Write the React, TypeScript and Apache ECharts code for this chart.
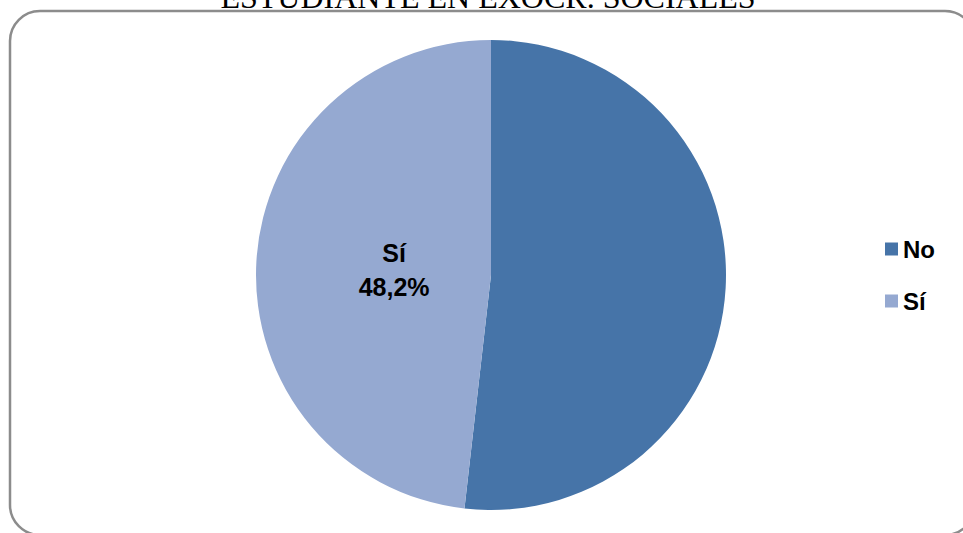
import React, { useEffect, useRef } from "react";
import * as echarts from "echarts";

const categories = ["No", "Sí"];
const values = [51.8, 48.2];
const colors = ["#4674A8", "#95A9D1"];
const titleText = "ESTUDIANTE EN EXOCR. SOCIALES";

export default function App() {
  const ref = useRef<HTMLDivElement>(null);
  useEffect(() => {
    if (!ref.current) return;
    const chart = echarts.init(ref.current, undefined, { renderer: "svg" });
    const data = categories.map((c, i) => ({ name: c, value: values[i], itemStyle: { color: colors[i] } }));
    chart.setOption({
      animation: false,
      backgroundColor: "#ffffff",
      legend: {
        orient: "vertical",
        left: 880,
        top: 232,
        itemWidth: 13,
        itemHeight: 13,
        itemGap: 28,
        icon: "rect",
        data: categories,
        textStyle: { fontFamily: "Liberation Sans", fontWeight: "bold", fontSize: 24, color: "#000", lineHeight: 24 },
      },
      graphic: [
        {
          type: "rect",
          shape: { x: 10, y: 11, width: 965, height: 524, r: 30 },
          style: { fill: "none", stroke: "#8c8c8c", lineWidth: 2.5 },
          silent: true,
        },
        {
          type: "text",
          x: 488,
          y: -3,
          style: {
            text: titleText,
            font: "32px 'Liberation Serif'",
            fill: "#000",
            align: "center",
            verticalAlign: "middle",
          },
          silent: true,
        },
      ],
      series: [
        {
          type: "pie",
          center: [491, 275],
          radius: [0, 235],
          startAngle: 90,
          clockwise: true,
          silent: true,
          label: { show: false },
          labelLine: { show: false },
          data,
        },
        {
          type: "pie",
          center: [491, 275],
          radius: [0, 188],
          startAngle: 90,
          clockwise: true,
          silent: true,
          itemStyle: { color: "rgba(0,0,0,0)" },
          labelLine: { show: false },
          label: {
            show: true,
            position: "inside",
            fontFamily: "Liberation Sans",
            fontWeight: "bold",
            fontSize: 25,
            lineHeight: 34,
            color: "#000",
            formatter: (p: any) =>
              p.name === "Sí" ? p.name + "\n" + p.value.toFixed(1).replace(".", ",") + "%" : "",
          },
          data: categories.map((c, i) => ({ name: c, value: values[i] })),
        },
      ],
    });
    return () => chart.dispose();
  }, []);
  return <div ref={ref} style={{ position: "absolute", left: 0, top: 0, width: 963, height: 533 }} />;
}
